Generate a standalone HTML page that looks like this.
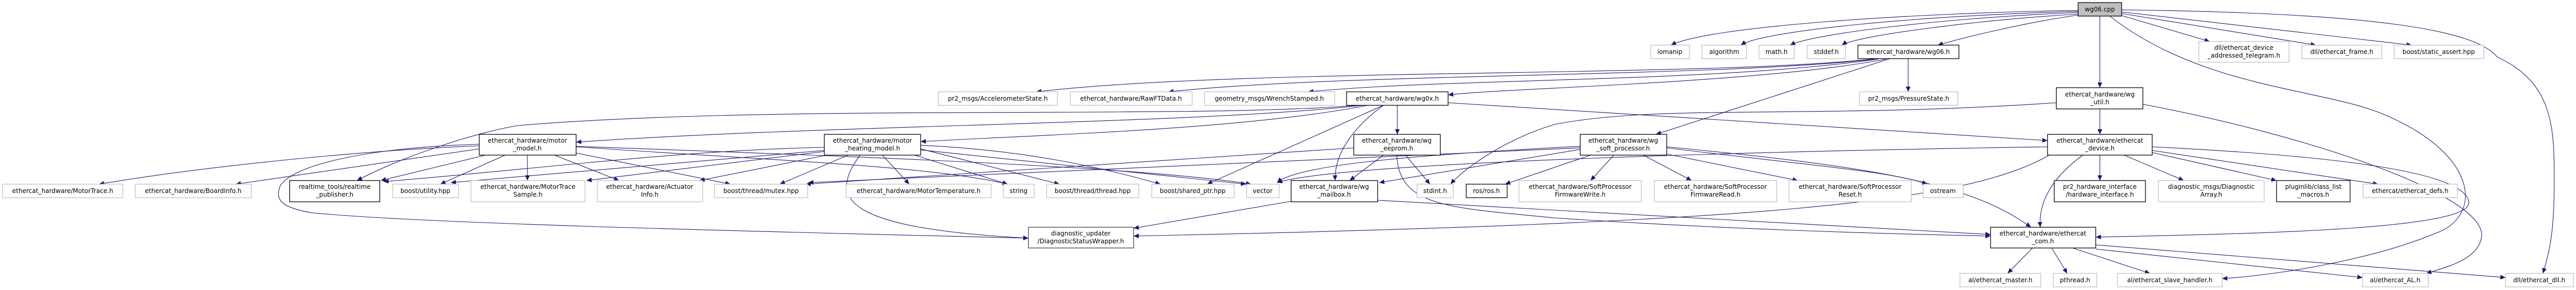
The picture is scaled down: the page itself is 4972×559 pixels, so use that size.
<!DOCTYPE html>
<html><head><meta charset="utf-8"><style>
html,body{margin:0;padding:0;background:#fff;}
svg{display:block;}
text{font-family:"DejaVu Sans","Liberation Sans",sans-serif;font-size:12px;fill:#000;text-anchor:middle;}
.g{fill:#fff;stroke:#bfbfbf;stroke-width:1.3;}
.b{fill:#fff;stroke:#000;stroke-width:1.3;}
path.e{fill:none;stroke:#191970;stroke-width:1.1;marker-end:url(#a);}
</style></head><body>
<svg width="4972" height="559" viewBox="0 0 4972 559" xmlns="http://www.w3.org/2000/svg">
<defs><marker id="a" markerUnits="userSpaceOnUse" markerWidth="11" markerHeight="9" refX="10" refY="4.5" orient="auto"><path d="M0,0 L10,4.5 L0,9 z" fill="#191970"/></marker></defs>
<g>
<!-- wg06.cpp edges -->
<path class="e" d="M4011,20 C3700,25 3300,50 3225,87"/>
<path class="e" d="M4011,22 C3700,30 3400,60 3360,87"/>
<path class="e" d="M4011,24 C3750,35 3500,65 3455,87"/>
<path class="e" d="M4011,27 C3800,40 3580,70 3555,87"/>
<path class="e" d="M4011,29 C3900,45 3780,75 3740,87"/>
<path class="e" d="M4053,31 L4053,169"/>
<path class="e" d="M4095,30 L4265,80"/>
<path class="e" d="M4095,26 L4470,87"/>
<path class="e" d="M4095,23 L4655,87"/>
<path class="e" d="M4095,19 C4600,25 4780,60 4820,110 C4930,160 4930,250 4930,350 C4930,450 4920,490 4908,527"/>
<path class="e" d="M4072,31 C4250,170 4480,170 4600,220 C4790,300 4790,420 4700,450 C4580,500 4400,530 4289,537"/>
<!-- wg06.h -->
<path class="e" d="M3683,113 L3683,177"/>
<path class="e" d="M3648,113 L3196,259"/>
<path class="e" d="M3620,113 C3300,150 2400,130 2000,177"/>
<path class="e" d="M3620,114 C3300,150 2600,140 2255,177"/>
<path class="e" d="M3625,114 C3300,160 2800,150 2525,177"/>
<path class="e" d="M3640,114 C3400,160 2900,170 2795,183"/>
<!-- wg0x.h -->
<path class="e" d="M2697,203 L2697,259"/>
<path class="e" d="M2670,203 C2620,240 2575,290 2577,348"/>
<path class="e" d="M2670,203 L2330,355"/>
<path class="e" d="M2620,203 C2300,230 1500,200 1000,242 C920,255 780,300 689,348"/>
<path class="e" d="M2630,203 C2300,240 1600,240 1112,274"/>
<path class="e" d="M2640,203 C2400,250 2000,260 1777,273"/>
<path class="e" d="M2795,198 L3952,271"/>
<!-- motor_model -->
<path class="e" d="M925,281 C700,290 400,320 191,355"/>
<path class="e" d="M925,287 L455,355"/>
<path class="e" d="M937,299 L735,348"/>
<path class="e" d="M975,299 L850,355"/>
<path class="e" d="M1018,299 L1018,348"/>
<path class="e" d="M1070,299 L1195,348"/>
<path class="e" d="M1112,295 L1410,355"/>
<path class="e" d="M1112,283 C1500,310 1800,320 1945,355"/>
<path class="e" d="M1112,282 C1600,300 2200,320 2415,355"/>
<path class="e" d="M925,278 C700,285 560,320 540,360 C530,390 550,400 600,410 C800,430 1400,445 1985,459"/>
<!-- heating -->
<path class="e" d="M1591,292 L1132,348"/>
<path class="e" d="M1591,284 C1300,290 1000,330 740,350"/>
<path class="e" d="M1591,300 L1350,348"/>
<path class="e" d="M1637,299 L1505,355"/>
<path class="e" d="M1660,299 C1600,380 1620,440 1985,459"/>
<path class="e" d="M1703,299 L1755,355"/>
<path class="e" d="M1765,299 L1945,355"/>
<path class="e" d="M1777,289 L2405,355"/>
<path class="e" d="M1777,280 C2000,290 2150,330 2240,355"/>
<path class="e" d="M1777,287 L2045,355"/>
<path class="e" d="M1591,290 L870,352"/>
<!-- eeprom -->
<path class="e" d="M2670,299 L2605,348"/>
<path class="e" d="M2713,299 L2760,355"/>
<path class="e" d="M2696,299 C2700,400 2800,400 3000,420 C3300,440 3600,450 3842,455"/>
<path class="e" d="M2613,285 L1555,355"/>
<!-- mailbox -->
<path class="e" d="M2492,388 L2188,440"/>
<path class="e" d="M2659,386 L3842,452"/>
<!-- soft processor -->
<path class="e" d="M3115,299 L3070,348"/>
<path class="e" d="M3172,299 L3265,348"/>
<path class="e" d="M3217,297 L3470,348"/>
<path class="e" d="M3217,285 C3500,320 3650,330 3720,355"/>
<path class="e" d="M3217,283 C3600,320 3800,350 3920,438"/>
<path class="e" d="M3050,288 L2662,352"/>
<path class="e" d="M3050,282 C2700,300 2500,320 2465,352"/>
<path class="e" d="M3070,299 L2905,355"/>
<path class="e" d="M3050,285 L1560,352"/>
<!-- ethercat_device -->
<path class="e" d="M4053,299 L4053,348"/>
<path class="e" d="M4100,299 L4215,348"/>
<path class="e" d="M4154,294 L4394,348"/>
<path class="e" d="M4154,290 L4590,355"/>
<path class="e" d="M4020,299 C3950,350 3935,400 3938,438"/>
<path class="e" d="M4154,283 C4500,300 4760,330 4765,390 C4770,440 4400,450 4045,457"/>
<path class="e" d="M3952,283 C3500,290 2600,310 2465,352"/>
<path class="e" d="M3955,299 C3800,390 3400,430 2188,455"/>
<!-- wg_util -->
<path class="e" d="M4053,210 L4053,259"/>
<path class="e" d="M4136,201 C4450,260 4780,370 4790,450 C4790,500 4720,515 4683,527"/>
<path class="e" d="M3969,198 C3500,230 3200,200 3000,240 C2900,270 2820,330 2800,355"/>
<!-- ethercat_com -->
<path class="e" d="M3923,478 L3875,527"/>
<path class="e" d="M3960,478 L3990,527"/>
<path class="e" d="M4000,478 L4150,527"/>
<path class="e" d="M4045,480 L4560,535"/>
<path class="e" d="M4045,472 L4836,535"/>
</g>
<g>
<!-- row 0 -->
<rect x="4011" y="5" width="84" height="26" fill="#bfbfbf" stroke="#000" stroke-width="1.3"/><text x="4053" y="22">wg06.cpp</text>
<!-- row 1 -->
<rect class="g" x="3186" y="87" width="75" height="26"/><text x="3223" y="104">iomanip</text>
<rect class="g" x="3285" y="87" width="86" height="26"/><text x="3328" y="104">algorithm</text>
<rect class="g" x="3395" y="87" width="68" height="26"/><text x="3429" y="104">math.h</text>
<rect class="g" x="3488" y="87" width="74" height="26"/><text x="3525" y="104">stddef.h</text>
<rect class="b" x="3586" y="87" width="195" height="26"/><text x="3683" y="104">ethercat_hardware/wg06.h</text>
<rect class="g" x="4244" y="80" width="174" height="40"/><text x="4331" y="96">dll/ethercat_device</text><text x="4331" y="111">_addressed_telegram.h</text>
<rect class="g" x="4443" y="87" width="154" height="26"/><text x="4520" y="104">dll/ethercat_frame.h</text>
<rect class="g" x="4621" y="87" width="173" height="26"/><text x="4707" y="104">boost/static_assert.hpp</text>
<!-- row 2 -->
<rect class="g" x="1811" y="177" width="230" height="26"/><text x="1926" y="194">pr2_msgs/AccelerometerState.h</text>
<rect class="g" x="2066" y="177" width="235" height="26"/><text x="2183" y="194">ethercat_hardware/RawFTData.h</text>
<rect class="g" x="2325" y="177" width="251" height="26"/><text x="2450" y="194">geometry_msgs/WrenchStamped.h</text>
<rect class="b" x="2599" y="177" width="196" height="26"/><text x="2697" y="194">ethercat_hardware/wg0x.h</text>
<rect class="g" x="3589" y="177" width="190" height="26"/><text x="3684" y="194">pr2_msgs/PressureState.h</text>
<rect class="b" x="3969" y="169" width="167" height="41"/><text x="4053" y="186">ethercat_hardware/wg</text><text x="4053" y="201">_util.h</text>
<!-- row 3 -->
<rect class="b" x="925" y="259" width="187" height="40"/><text x="1018" y="275">ethercat_hardware/motor</text><text x="1018" y="290">_model.h</text>
<rect class="b" x="1591" y="259" width="186" height="40"/><text x="1684" y="275">ethercat_hardware/motor</text><text x="1684" y="290">_heating_model.h</text>
<rect class="b" x="2613" y="259" width="167" height="40"/><text x="2696" y="275">ethercat_hardware/wg</text><text x="2696" y="290">_eeprom.h</text>
<rect class="b" x="3050" y="259" width="167" height="40"/><text x="3133" y="275">ethercat_hardware/wg</text><text x="3133" y="290">_soft_processor.h</text>
<rect class="b" x="3952" y="259" width="202" height="40"/><text x="4053" y="275">ethercat_hardware/ethercat</text><text x="4053" y="290">_device.h</text>
<!-- row 4 -->
<rect class="g" x="5" y="355" width="232" height="26"/><text x="121" y="372">ethercat_hardware/MotorTrace.h</text>
<rect class="g" x="261" y="355" width="224" height="26"/><text x="373" y="372">ethercat_hardware/BoardInfo.h</text>
<rect class="b" x="559" y="348" width="174" height="41"/><text x="646" y="364">realtime_tools/realtime</text><text x="646" y="379">_publisher.h</text>
<rect class="g" x="758" y="355" width="127" height="26"/><text x="821" y="372">boost/utility.hpp</text>
<rect class="g" x="909" y="348" width="220" height="41"/><text x="1019" y="364">ethercat_hardware/MotorTrace</text><text x="1019" y="379">Sample.h</text>
<rect class="g" x="1153" y="348" width="203" height="41"/><text x="1254" y="364">ethercat_hardware/Actuator</text><text x="1254" y="379">Info.h</text>
<rect class="g" x="1379" y="355" width="180" height="26"/><text x="1469" y="372">boost/thread/mutex.hpp</text>
<rect class="g" x="1633" y="355" width="280" height="26"/><text x="1773" y="372">ethercat_hardware/MotorTemperature.h</text>
<rect class="g" x="1937" y="355" width="59" height="26"/><text x="1966" y="372">string</text>
<rect class="g" x="2020" y="355" width="178" height="26"/><text x="2109" y="372">boost/thread/thread.hpp</text>
<rect class="g" x="2223" y="355" width="159" height="26"/><text x="2302" y="372">boost/shared_ptr.hpp</text>
<rect class="g" x="2406" y="355" width="63" height="26"/><text x="2437" y="372">vector</text>
<rect class="b" x="2492" y="348" width="167" height="41"/><text x="2575" y="364">ethercat_hardware/wg</text><text x="2575" y="379">_mailbox.h</text>
<rect class="g" x="2735" y="355" width="70" height="26"/><text x="2770" y="372">stdint.h</text>
<rect class="b" x="2830" y="355" width="79" height="26"/><text x="2869" y="372">ros/ros.h</text>
<rect class="g" x="2932" y="348" width="236" height="41"/><text x="3050" y="364">ethercat_hardware/SoftProcessor</text><text x="3050" y="379">FirmwareWrite.h</text>
<rect class="g" x="3193" y="348" width="236" height="41"/><text x="3311" y="364">ethercat_hardware/SoftProcessor</text><text x="3311" y="379">FirmwareRead.h</text>
<rect class="g" x="3453" y="348" width="236" height="41"/><text x="3571" y="364">ethercat_hardware/SoftProcessor</text><text x="3571" y="379">Reset.h</text>
<rect class="g" x="3712" y="355" width="77" height="26"/><text x="3750" y="372">ostream</text>
<rect class="b" x="3965" y="348" width="176" height="41"/><text x="4053" y="364">pr2_hardware_interface</text><text x="4053" y="379">/hardware_interface.h</text>
<rect class="g" x="4166" y="348" width="204" height="41"/><text x="4268" y="364">diagnostic_msgs/Diagnostic</text><text x="4268" y="379">Array.h</text>
<rect class="b" x="4394" y="348" width="142" height="41"/><text x="4465" y="364">pluginlib/class_list</text><text x="4465" y="379">_macros.h</text>
<rect class="g" x="4561" y="355" width="182" height="26"/><text x="4652" y="372">ethercat/ethercat_defs.h</text>
<!-- row 5 -->
<rect x="1985" y="438" width="203" height="40" fill="#fff" stroke="#404040" stroke-width="1.3"/><text x="2086" y="454">diagnostic_updater</text><text x="2086" y="469">/DiagnosticStatusWrapper.h</text>
<rect class="b" x="3842" y="438" width="203" height="40"/><text x="3943" y="454">ethercat_hardware/ethercat</text><text x="3943" y="469">_com.h</text>
<!-- row 6 -->
<rect class="g" x="3783" y="527" width="156" height="26"/><text x="3861" y="544">al/ethercat_master.h</text>
<rect class="g" x="3963" y="527" width="84" height="26"/><text x="4005" y="544">pthread.h</text>
<rect class="g" x="4087" y="527" width="202" height="26"/><text x="4188" y="544">al/ethercat_slave_handler.h</text>
<rect class="g" x="4560" y="527" width="127" height="26"/><text x="4623" y="544">al/ethercat_AL.h</text>
<rect class="g" x="4836" y="527" width="131" height="26"/><text x="4901" y="544">dll/ethercat_dll.h</text>
</g>
</svg>
</body></html>
